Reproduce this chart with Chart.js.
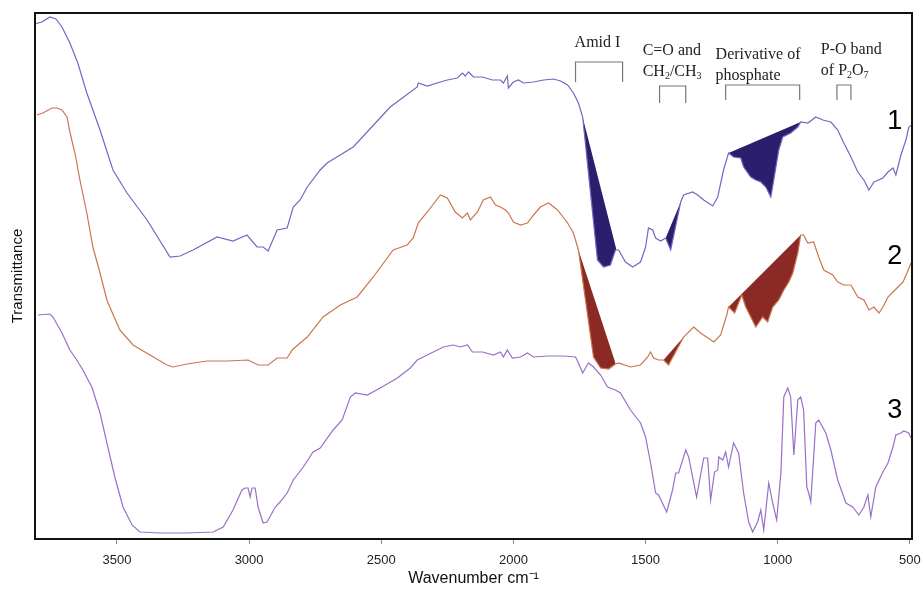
<!DOCTYPE html>
<html>
<head>
<meta charset="utf-8">
<script src="https://cdn.jsdelivr.net/npm/chart.js@4.4.0/dist/chart.umd.min.js"></script>
<style>
    html, body { margin: 0; padding: 0; background: #fff; }
</style>
</head>
<body>
<canvas id="ftir-chart" width="924" height="591"></canvas>
<script>
// wavenumber (cm-1) and transmittance (arbitrary units)
const curve1Wn = [3811,3784,3754,3731,3708,3678,3648,3614,3564,3515,3462,3386,3299,3261,3212,3121,3061,3008,2970,2947,2928,2894,2856,2833,2807,2780,2731,2705,2606,2466,2364,2360,2326,2276,2250,2212,2193,2182,2170,2151,2117,2080,2049,2038,2023,2019,2000,1981,1962,1924,1886,1848,1822,1795,1773,1754,1738,1682,1659,1633,1614,1602,1576,1549,1519,1500,1489,1473,1462,1443,1424,1405,1367,1356,1322,1303,1280,1246,1227,1205,1186,1167,1140,1129,1102,1083,1064,1045,1026,1015,996,981,951,924,913,886,856,829,799,773,750,723,697,674,655,636,602,583,564,553,534,515,504,492];
const curve1T = [515,517,522,520,512,496,476,446,409,369,346,319,282,283,289,302,298,304,292,292,288,309,311,332,339,352,369,376,392,432,452,456,453,457,459,461,466,463,467,462,462,459,459,456,463,451,457,459,456,457,459,460,458,454,446,436,422,279,272,274,289,289,277,272,277,292,311,309,301,298,301,289,337,344,347,344,339,333,342,369,386,382,381,372,362,359,357,352,342,359,389,402,406,412,417,416,422,419,417,409,396,382,367,359,349,357,361,367,371,364,384,399,412,414];

const curve2Wn = [3803,3780,3746,3727,3708,3689,3678,3659,3640,3614,3591,3564,3538,3527,3489,3439,3375,3311,3288,3235,3159,3083,3004,2966,2928,2894,2856,2837,2807,2780,2720,2655,2591,2530,2455,2402,2379,2360,2326,2276,2250,2220,2193,2174,2163,2136,2114,2087,2068,2049,2030,2019,2000,1973,1947,1924,1898,1867,1833,1795,1773,1754,1697,1670,1640,1614,1602,1557,1519,1492,1481,1470,1451,1432,1413,1356,1318,1292,1242,1216,1193,1186,1163,1136,1121,1102,1083,1057,1038,1019,996,977,958,943,924,913,902,886,864,845,826,792,773,750,723,697,674,655,636,617,602,583,564,545,526,511,496];
const curve2T = [424,426,431,431,429,422,407,386,359,326,292,266,239,232,209,194,184,174,172,175,178,178,179,174,174,181,181,189,196,202,222,234,242,262,289,294,301,316,327,344,341,327,321,326,319,327,339,342,334,332,329,326,317,314,316,324,332,336,329,316,306,289,182,171,170,175,176,172,174,182,187,181,179,179,174,202,212,206,197,204,224,232,226,244,232,222,212,222,217,232,239,249,257,266,286,304,304,296,297,282,269,264,257,254,254,242,239,229,232,226,232,242,247,252,257,266,276];

const curve3Wn = [3799,3754,3742,3708,3678,3652,3629,3595,3564,3538,3508,3477,3443,3413,3337,3235,3136,3098,3061,3027,3015,3004,2996,2989,2977,2966,2947,2932,2901,2883,2856,2833,2795,2758,2731,2682,2648,2617,2598,2553,2504,2439,2390,2364,2326,2265,2227,2201,2174,2155,2117,2076,2049,2038,2023,2004,1973,1947,1924,1871,1811,1765,1754,1738,1716,1697,1670,1644,1614,1595,1557,1519,1500,1481,1462,1451,1420,1398,1386,1375,1348,1337,1307,1280,1265,1254,1239,1227,1223,1208,1197,1186,1167,1148,1129,1110,1095,1076,1064,1053,1034,1019,1004,988,977,962,951,939,924,913,902,890,883,875,856,845,818,799,773,742,716,693,674,659,648,629,602,583,564,553,534,523,504,496];
const curve3T = [224,225,222,206,189,179,169,152,126,96,62,32,14,7,6,6,7,12,29,49,51,51,42,51,51,32,16,17,32,37,46,59,72,87,91,109,119,142,146,144,151,161,171,179,184,192,194,192,194,187,187,184,187,182,189,181,182,186,182,183,183,182,176,166,176,172,164,152,149,146,129,116,102,76,46,44,27,49,66,66,89,82,42,81,81,39,67,69,82,79,87,72,96,86,46,17,7,17,29,9,56,36,19,66,142,151,142,84,139,142,129,52,46,37,116,119,106,89,59,36,32,24,32,44,22,52,67,76,92,104,106,108,106,101];

// shaded bands: straight chord end points [wn, T] for each curve
const chords1 = [[[1742, 426], [1610, 289]], [[1424, 301], [1367, 337]], [[1186, 386], [913, 417]]];
const chords2 = [[[1754, 289], [1614, 176]], [[1432, 179], [1356, 202]], [[1186, 232], [913, 304]]];

const xTicks = [3500, 3000, 2500, 2000, 1500, 1000, 500];
const curveNames = ['1', '2', '3'];

const bandLabels = ['Amid I', 'C=O and\nCH_2/CH_3', 'Derivative of\nphosphate', 'P-O band\nof P_2O_7'];
const bandStart = [1765, 1447, 1197, 776];
const bandEnd = [1587, 1348, 917, 723];

// where the notes sit (data units)
const bandLayout = [
    { top: 477, drop: 20, tx: 1682, ty: 496, align: 'center' },
    { top: 453, drop: 17, tx: 1511, ty: 488, align: 'left' },
    { top: 454, drop: 15, tx: 1235, ty: 484, align: 'left' },
    { top: 454, drop: 15, tx: 837, ty: 489, align: 'left' }
];
const nameLayout = [[557, 417], [557, 282], [557, 128]];

const colors = ['#7068c2', '#cb7550', '#9a6fc9'];
const fillColors = ['#2b1e6c', '#8b2a25'];

const toPoints = (wn, t) => wn.map((w, i) => ({ x: w, y: t[i] }));

function chordSets(chords, target) {
    return chords.map(c => ({
        data: c.map(p => ({ x: p[0], y: p[1] })),
        borderColor: 'transparent',
        borderWidth: 0,
        pointRadius: 0,
        backgroundColor: fillColors[target],
        fill: { target: target, above: fillColors[target], below: fillColors[target] }
    }));
}

function drawRich(ctx, str, px, py, align) {
    const parts = str.split(/(_\d)/).filter(Boolean);
    const main = '16px "Liberation Serif", "Times New Roman", serif';
    const small = '10px "Liberation Serif", "Times New Roman", serif';
    let w = 0;
    parts.forEach(p => {
        ctx.font = p[0] === '_' ? small : main;
        w += ctx.measureText(p[0] === '_' ? p.slice(1) : p).width;
    });
    let cx = align === 'center' ? px - w / 2 : px;
    ctx.textAlign = 'left';
    ctx.textBaseline = 'middle';
    parts.forEach(p => {
        const sub = p[0] === '_';
        const s = sub ? p.slice(1) : p;
        ctx.font = sub ? small : main;
        ctx.fillText(s, cx, sub ? py + 4 : py);
        cx += ctx.measureText(s).width;
    });
}

const notesPlugin = {
    id: 'notes',
    afterDatasetsDraw(chart) {
        const { ctx, chartArea: a, scales: { x, y } } = chart;
        ctx.save();

        // brackets and band names
        ctx.strokeStyle = '#777';
        ctx.lineWidth = 1.2;
        ctx.fillStyle = '#222';
        bandLabels.forEach((label, i) => {
            const L = bandLayout[i];
            const x1 = x.getPixelForValue(bandStart[i]);
            const x2 = x.getPixelForValue(bandEnd[i]);
            const yt = y.getPixelForValue(L.top);
            const yb = y.getPixelForValue(L.top - L.drop);
            ctx.beginPath();
            ctx.moveTo(x1, yb);
            ctx.lineTo(x1, yt);
            ctx.lineTo(x2, yt);
            ctx.lineTo(x2, yb);
            ctx.stroke();
            label.split('\n').forEach((line, j) => {
                drawRich(ctx, line, x.getPixelForValue(L.tx), y.getPixelForValue(L.ty) + j * 21, L.align);
            });
        });

        // curve numbers
        ctx.fillStyle = '#000';
        ctx.font = '27px "Liberation Sans", Arial, sans-serif';
        ctx.textAlign = 'center';
        ctx.textBaseline = 'middle';
        curveNames.forEach((n, i) => {
            ctx.fillText(n, x.getPixelForValue(nameLayout[i][0]), y.getPixelForValue(nameLayout[i][1]));
        });

        // frame
        ctx.strokeStyle = '#111';
        ctx.lineWidth = 2;
        ctx.strokeRect(a.left, a.top, a.right - a.left, a.bottom - a.top);
        ctx.restore();
    }
};

const ctx = document.getElementById('ftir-chart').getContext('2d');
new Chart(ctx, {
    type: 'line',
    data: {
        datasets: [
            { data: toPoints(curve1Wn, curve1T), borderColor: colors[0], borderWidth: 1.2, pointRadius: 0, fill: false },
            { data: toPoints(curve2Wn, curve2T), borderColor: colors[1], borderWidth: 1.2, pointRadius: 0, fill: false },
            { data: toPoints(curve3Wn, curve3T), borderColor: colors[2], borderWidth: 1.2, pointRadius: 0, fill: false },
            ...chordSets(chords1, 0),
            ...chordSets(chords2, 1)
        ]
    },
    options: {
        responsive: false,
        animation: false,
        layout: { padding: { top: 13, right: 12, left: 0, bottom: 0 } },
        plugins: { legend: { display: false }, tooltip: { enabled: false } },
        elements: { line: { tension: 0 } },
        scales: {
            x: {
                type: 'linear',
                reverse: true,
                min: 492,
                max: 3810,
                afterBuildTicks: s => { s.ticks = xTicks.map(v => ({ value: v })); },
                afterFit: s => { s.height = 52; s.paddingLeft = 0; s.paddingRight = 0; },
                grid: { display: true, drawOnChartArea: false, drawTicks: true, tickLength: 5, color: '#888' },
                border: { display: false },
                ticks: {
                    padding: 9,
                    color: '#222',
                    maxRotation: 0,
                    font: { family: '"Liberation Sans", Arial, sans-serif', size: 13 },
                    callback: v => String(v)
                },
                title: {
                    display: true,
                    text: 'Wavenumber cm⁻¹',
                    color: '#111',
                    font: { family: '"Liberation Sans", Arial, sans-serif', size: 16 },
                    padding: { top: 0, bottom: 3 }
                }
            },
            y: {
                min: 0,
                max: 526,
                ticks: { display: false },
                grid: { display: false },
                border: { display: false },
                afterFit: s => { s.width = 35; },
                title: {
                    display: true,
                    text: 'Transmittance',
                    color: '#111',
                    font: { family: '"Liberation Sans", Arial, sans-serif', size: 15 },
                    padding: { top: 9, bottom: 0 }
                }
            }
        }
    },
    plugins: [notesPlugin]
});
</script>
</body>
</html>
